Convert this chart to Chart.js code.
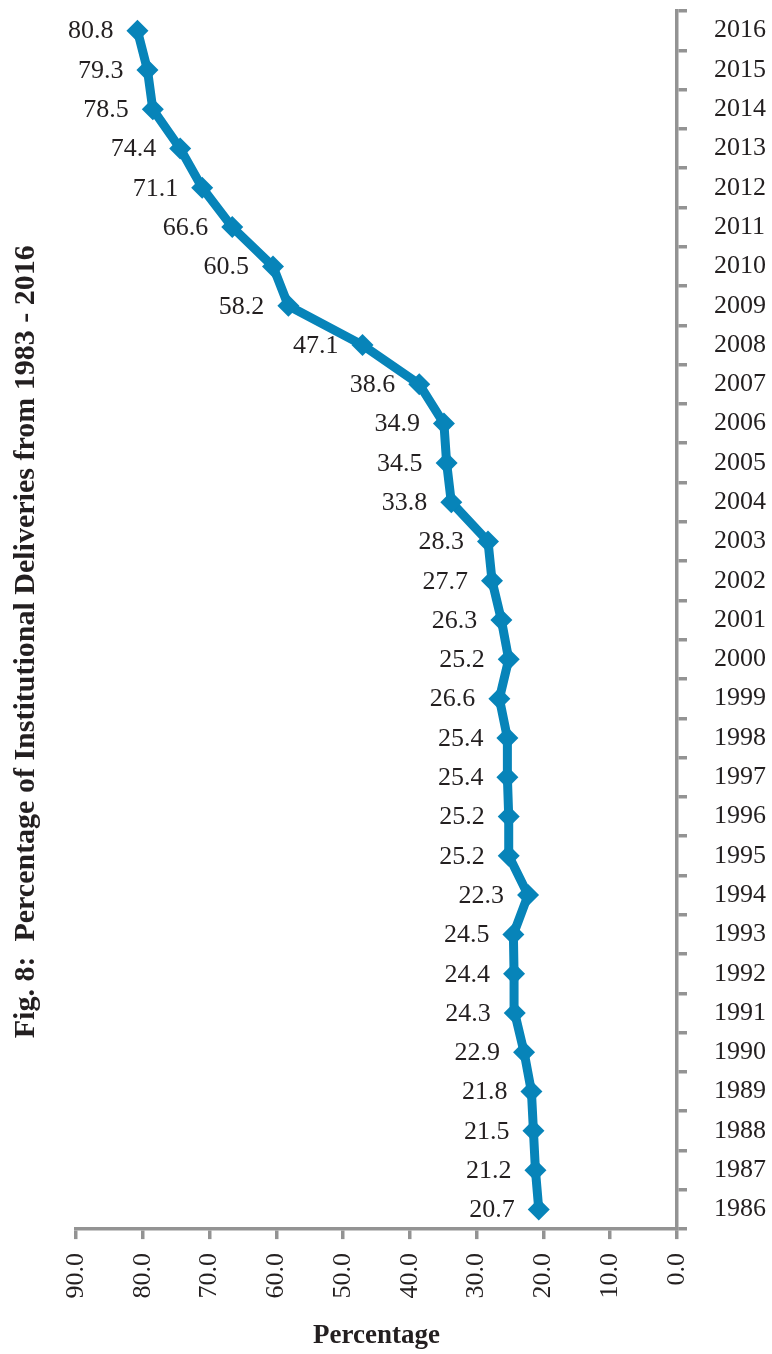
<!DOCTYPE html>
<html>
<head>
<meta charset="utf-8">
<script src="https://cdn.jsdelivr.net/npm/chart.js@4/dist/chart.umd.min.js"></script>
<style>
  html, body { margin: 0; padding: 0; background: #fff; }
  #wrap { width: 772px; height: 1354px; }
</style>
</head>
<body>
<div id="wrap"><canvas id="chart"></canvas></div>
<script>
const years = ['1986', '1987', '1988', '1989', '1990', '1991', '1992', '1993', '1994', '1995',
  '1996', '1997', '1998', '1999', '2000', '2001', '2002', '2003', '2004', '2005',
  '2006', '2007', '2008', '2009', '2010', '2011', '2012', '2013', '2014', '2015', '2016'];
const deliveries = [20.7, 21.2, 21.5, 21.8, 22.9, 24.3, 24.4, 24.5, 22.3, 25.2,
  25.2, 25.4, 25.4, 26.6, 25.2, 26.3, 27.7, 28.3, 33.8, 34.5,
  34.9, 38.6, 47.1, 58.2, 60.5, 66.6, 71.1, 74.4, 78.5, 79.3, 80.8];
const percentTicks = [0, 10, 20, 30, 40, 50, 60, 70, 80, 90];

const TITLE = 'Fig. 8:  Percentage of Institutional Deliveries from 1983 - 2016';
const LINE_COLOR = '#0784b9';
const AXIS_COLOR = '#939393';
const SERIF = '"Liberation Serif", "Times New Roman", serif';

// value labels to the left of each marker
const valueLabels = {
  id: 'valueLabels',
  afterDatasetsDraw(chart) {
    const ctx = chart.ctx;
    const meta = chart.getDatasetMeta(0);
    ctx.save();
    ctx.font = '26px ' + SERIF;
    ctx.fillStyle = '#231f20';
    ctx.textAlign = 'right';
    ctx.textBaseline = 'middle';
    meta.data.forEach((pt, i) => {
      ctx.fillText(deliveries[i].toFixed(1), pt.x - 24, pt.y + 1);
    });
    ctx.restore();
  },
};

// rotated figure caption on the left side
const sideTitle = {
  id: 'sideTitle',
  afterDraw(chart) {
    const ctx = chart.ctx;
    ctx.save();
    ctx.translate(26, chart.height * 0.474);
    ctx.rotate(-Math.PI / 2);
    ctx.font = 'bold 30px ' + SERIF;
    ctx.fillStyle = '#231f20';
    ctx.textAlign = 'center';
    ctx.textBaseline = 'middle';
    ctx.fillText(TITLE, 0, 0);
    ctx.restore();
  },
};

new Chart(document.getElementById('chart'), {
  type: 'line',
  data: {
    labels: years,
    datasets: [{
      data: deliveries,
      borderColor: LINE_COLOR,
      backgroundColor: LINE_COLOR,
      borderWidth: 9,
      tension: 0,
      pointStyle: 'rectRot',
      pointRadius: 11,
      pointBorderWidth: 0,
      pointBackgroundColor: LINE_COLOR,
      clip: false,
    }],
  },
  options: {
    indexAxis: 'y',
    responsive: true,
    maintainAspectRatio: false,
    animation: false,
    layout: {
      padding: { left: 76, top: 9, right: 0, bottom: 2 },
    },
    plugins: {
      legend: { display: false },
      tooltip: { enabled: false },
      title: { display: false },
    },
    scales: {
      x: {
        type: 'linear',
        position: 'bottom',
        reverse: true,
        min: 0,
        max: 90,
        afterBuildTicks: (scale) => {
          scale.ticks = percentTicks.map((v) => ({ value: v }));
        },
        afterFit: (scale) => {
          scale.paddingRight = 0;
        },
        grid: {
          drawOnChartArea: false,
          drawTicks: true,
          tickLength: 10,
          color: AXIS_COLOR,
          lineWidth: 3.5,
        },
        border: { display: true, color: AXIS_COLOR, width: 3.5 },
        ticks: {
          minRotation: 90,
          maxRotation: 90,
          padding: 14,
          color: '#231f20',
          font: { family: SERIF, size: 26 },
          callback: (v) => Number(v).toFixed(1),
        },
        title: {
          display: true,
          text: 'Percentage',
          color: '#231f20',
          font: { family: SERIF, size: 27, weight: 'bold' },
          padding: { top: 7, bottom: 0 },
        },
      },
      y: {
        type: 'category',
        position: 'right',
        reverse: true,
        offset: true,
        afterFit: (scale) => {
          scale.width = 95;
          scale.paddingTop = 0;
          scale.paddingBottom = 0;
        },
        grid: {
          offset: true,
          drawOnChartArea: false,
          drawTicks: true,
          tickLength: 10,
          color: AXIS_COLOR,
          lineWidth: 3.5,
        },
        border: { display: true, color: AXIS_COLOR, width: 3.5 },
        ticks: {
          padding: 27,
          color: '#231f20',
          font: { family: SERIF, size: 26 },
          autoSkip: false,
        },
      },
    },
  },
  plugins: [valueLabels, sideTitle],
});
</script>
</body>
</html>
